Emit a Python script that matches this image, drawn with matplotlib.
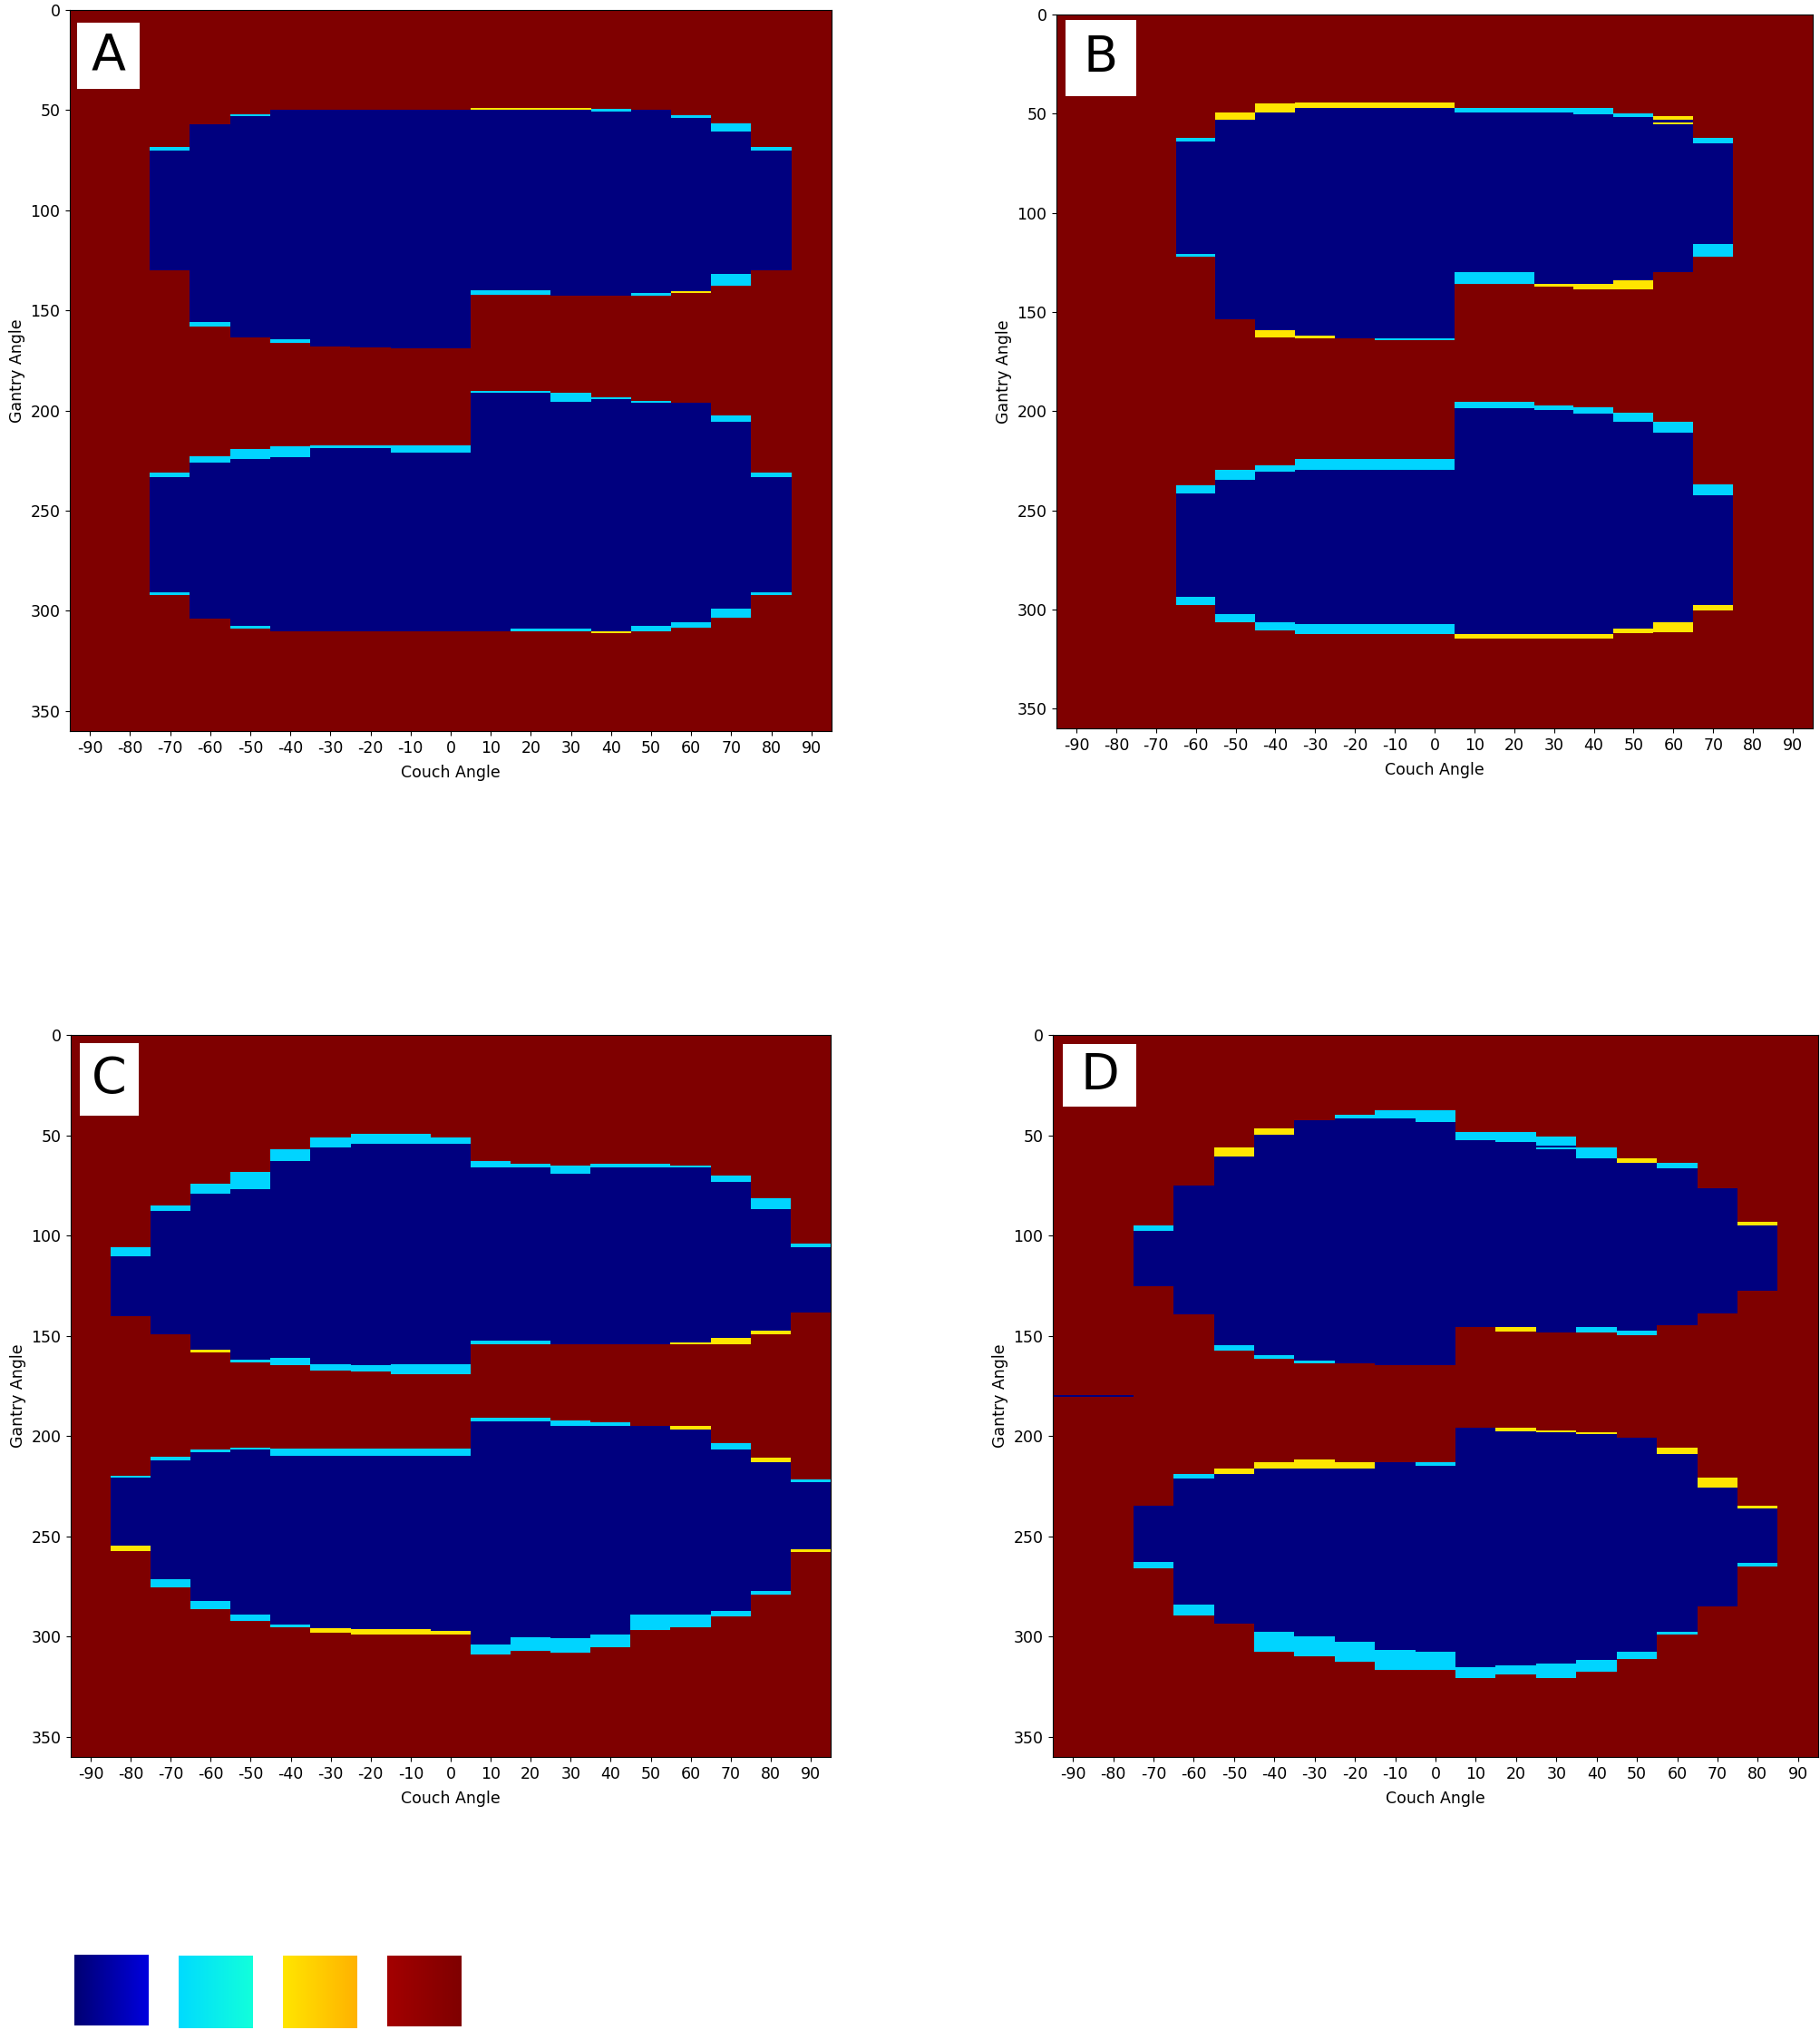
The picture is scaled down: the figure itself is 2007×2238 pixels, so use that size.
import numpy as np
import matplotlib
matplotlib.use("Agg")
import matplotlib.pyplot as plt
from matplotlib.patches import Rectangle

plt.rcParams["axes.unicode_minus"] = False

# codes: 0 = dark blue, 1 = cyan, 2 = yellow, 3 = dark red (background)
couch_angles = list(range(-90, 91, 10))

# ---- panel A ----
A_upper = [(-70, 70, 130), (-60, 57, 156), (-50, 53, 163.5), (-40, 50, 164.5), (-30, 50, 168),
           (-20, 50, 168.5), (-10, 50, 169), (0, 50, 169), (10, 50, 140), (20, 50, 140),
           (30, 50, 142.5), (40, 50.5, 142.5), (50, 50, 141.5), (60, 54, 140.5), (70, 60.5, 132),
           (80, 70, 130)]
A_lower = [(-70, 233.3, 290.7), (-60, 225.8, 303.8), (-50, 224.3, 307.5), (-40, 223.3, 310),
           (-30, 218.8, 310), (-20, 218.8, 310), (-10, 220.8, 310), (0, 220.8, 310),
           (10, 191.2, 310), (20, 191.2, 308.8), (30, 195.5, 308.8), (40, 194.2, 310),
           (50, 196.2, 307.5), (60, 196, 305.8), (70, 205.5, 298.7), (80, 233.3, 290.7)]
A_bands = [(-70, 68.4, 70, 1), (-60, 156, 158, 1), (-50, 52, 53, 1), (-40, 164.5, 166, 1),
           (10, 49, 50, 2), (20, 49, 50, 2), (30, 49, 50, 2), (10, 140, 142, 1), (20, 140, 142, 1),
           (40, 49.5, 50.5, 1), (50, 141.5, 142.5, 1), (60, 52.6, 54, 1), (60, 140.5, 141.5, 2),
           (70, 56.6, 60.5, 1), (70, 132, 137.5, 1), (80, 68.4, 70, 1),
           (-70, 230.8, 233.3, 1), (-70, 290.7, 292.2, 1), (-60, 222.8, 225.8, 1),
           (-50, 219.3, 224.3, 1), (-50, 307.5, 308.8, 1), (-40, 217.8, 223.3, 1),
           (-30, 217.5, 218.8, 1), (-20, 217.5, 218.8, 1), (-10, 217.5, 220.8, 1),
           (0, 217.5, 220.8, 1), (10, 190, 191.2, 1), (20, 190, 191.2, 1), (20, 308.8, 310, 1),
           (30, 191.2, 195.5, 1), (30, 308.8, 310, 1), (40, 193.2, 194.2, 1), (40, 310, 311.3, 2),
           (50, 195, 196.2, 1), (50, 307.5, 310, 1), (60, 305.8, 308.3, 1), (70, 202.3, 205.5, 1),
           (70, 298.7, 303.3, 1), (80, 230.8, 233.3, 1), (80, 290.7, 292.2, 1)]

# ---- panel B ----
B_upper = [(-60, 64.5, 121), (-50, 53.4, 154), (-40, 49.7, 159.3), (-30, 47.4, 162.3),
           (-20, 47.4, 163.4), (-10, 47.4, 163.4), (0, 47.4, 163.4), (10, 49.7, 130),
           (20, 49.7, 130), (30, 49.7, 136), (40, 50.6, 136), (50, 52, 134.3), (60, 53.4, 130),
           (70, 65.2, 116)]
B_lower = [(-60, 241.6, 293.8), (-50, 234.8, 302.6), (-40, 230.5, 306.7), (-30, 229.7, 307.5),
           (-20, 229.7, 307.5), (-10, 229.7, 307.5), (0, 229.7, 307.5), (10, 198.9, 312.5),
           (20, 198.9, 312.5), (30, 199.7, 312.5), (40, 201.5, 312.5), (50, 205.8, 309.9),
           (60, 211, 306.7), (70, 242.6, 297.9)]
B_bands = [(-60, 62.7, 64.5, 1), (-60, 121, 122.4, 1), (-50, 49.7, 53.4, 2), (-40, 45.4, 49.7, 2),
           (-40, 159.3, 163.3, 2), (-30, 44.7, 47.4, 2), (-20, 44.7, 47.4, 2), (-10, 44.7, 47.4, 2),
           (0, 44.7, 47.4, 2), (-30, 162.3, 163.4, 2), (-10, 163.4, 164.5, 1), (0, 163.4, 164.5, 1),
           (10, 47.4, 49.7, 1), (20, 47.4, 49.7, 1), (30, 47.4, 49.7, 1), (40, 47.4, 50.6, 1),
           (10, 130, 136, 1), (20, 130, 136, 1), (30, 136, 137.6, 2), (40, 136, 138.7, 2),
           (50, 50.3, 52, 1), (50, 134.3, 138.7, 2), (60, 51.5, 53.4, 2), (60, 54.6, 55.8, 2),
           (70, 62.7, 65.2, 1), (70, 116, 122.4, 1),
           (-60, 237.7, 241.6, 1), (-60, 293.8, 297.9, 1), (-50, 229.7, 234.8, 1),
           (-50, 302.6, 306.7, 1), (-40, 227.4, 230.5, 1), (-40, 306.7, 310.8, 1),
           (-30, 224.1, 229.7, 1), (-20, 224.1, 229.7, 1), (-10, 224.1, 229.7, 1), (0, 224.1, 229.7, 1),
           (-30, 307.5, 312.5, 1), (-20, 307.5, 312.5, 1), (-10, 307.5, 312.5, 1), (0, 307.5, 312.5, 1),
           (10, 195.7, 198.9, 1), (20, 195.7, 198.9, 1), (30, 197.3, 199.7, 1), (40, 198.3, 201.5, 1),
           (10, 312.5, 314.6, 2), (20, 312.5, 314.6, 2), (30, 312.5, 314.6, 2), (40, 312.5, 314.6, 2),
           (50, 200.8, 205.8, 1), (50, 309.9, 312, 2), (60, 205.8, 211, 1), (60, 306.7, 311.7, 2),
           (70, 237.3, 242.6, 1), (70, 297.9, 300.6, 2)]

# ---- panel C ----
C_upper = [(-80, 110.4, 140.3), (-70, 87.8, 149.3), (-60, 79, 156.9), (-50, 76.7, 162),
           (-40, 63, 161.2), (-30, 56.3, 164), (-20, 54.2, 164.7), (-10, 54.2, 164.2),
           (0, 54.2, 164.2), (10, 66, 152.2), (20, 66, 152.2), (30, 69.2, 154.2), (40, 66, 154.2),
           (50, 66, 154.2), (60, 66, 153.1), (70, 73.2, 150.9), (80, 87, 147.4), (90, 105.8, 138.5)]
C_lower = [(-80, 220.9, 254.4), (-70, 211.9, 271.3), (-60, 208, 282.1), (-50, 206.9, 289.2),
           (-40, 209.8, 294.1), (-30, 209.8, 295.9), (-20, 209.8, 296.4), (-10, 209.8, 296.4),
           (0, 209.8, 297.1), (10, 192.8, 303.9), (20, 192.8, 300.2), (30, 194.7, 300.9),
           (40, 194.7, 299.1), (50, 194.7, 289.2), (60, 196.8, 289.2), (70, 206.8, 287.4),
           (80, 212.8, 277.3), (90, 222.8, 256.6)]
C_bands = [(-80, 105.8, 110.4, 1), (-70, 84.8, 87.8, 1), (-60, 74, 79, 1), (-60, 156.9, 158.4, 2),
           (-50, 68.3, 76.7, 1), (-50, 162, 163.2, 1), (-40, 57.2, 63, 1), (-40, 161.2, 164.7, 1),
           (-30, 51.2, 56.3, 1), (-30, 164, 167.2, 1), (-20, 49.3, 54.2, 1), (-20, 164.7, 168, 1),
           (-10, 49.3, 54.2, 1), (-10, 164.2, 169.2, 1), (0, 51.2, 54.2, 1), (0, 164.2, 169.2, 1),
           (10, 62.7, 66, 1), (10, 152.2, 154.2, 1), (20, 64.2, 66, 1), (20, 152.2, 154.2, 1),
           (30, 65, 69.2, 1), (40, 64.2, 66, 1), (50, 64.2, 66, 1), (60, 65, 66, 1),
           (60, 153.1, 154.2, 2), (70, 70.2, 73.2, 1), (70, 150.9, 154.2, 2), (80, 81.2, 87, 1),
           (80, 147.4, 149.4, 2), (90, 104, 105.8, 1),
           (-80, 219.8, 220.9, 1), (-80, 254.4, 257.4, 2), (-70, 210.5, 211.9, 1),
           (-70, 271.3, 275.4, 1), (-60, 206.6, 208, 1), (-60, 282.1, 286.3, 1), (-50, 206, 206.9, 1),
           (-50, 289.2, 292.2, 1), (-40, 206.3, 209.8, 1), (-40, 294.1, 295.3, 1),
           (-30, 206.3, 209.8, 1), (-30, 295.9, 297.9, 2), (-20, 206.3, 209.8, 1), (-20, 296.4, 299, 2),
           (-10, 206.3, 209.8, 1), (-10, 296.4, 299, 2), (0, 206.3, 209.8, 1), (0, 297.1, 298.9, 2),
           (10, 191, 192.8, 1), (10, 303.9, 308.9, 1), (20, 191, 192.8, 1), (20, 300.2, 306.9, 1),
           (30, 192, 194.7, 1), (30, 300.9, 308.1, 1), (40, 193.1, 194.7, 1), (40, 299.1, 305.1, 1),
           (50, 289.2, 296.8, 1), (60, 195, 196.8, 2), (60, 289.2, 295.2, 1), (70, 203.3, 206.8, 1),
           (70, 287.4, 290.1, 1), (80, 210.8, 212.8, 2), (80, 277.3, 279.1, 1), (90, 221.6, 222.8, 1),
           (90, 256.6, 257.7, 2)]

# ---- panel D ----
D_upper = [(-70, 97.5, 125.4), (-60, 75.3, 139.4), (-50, 60.6, 154.8), (-40, 49.7, 159.7),
           (-30, 42.3, 162.4), (-20, 41.4, 163.6), (-10, 41.4, 164.6), (0, 43.5, 164.6),
           (10, 52.3, 145.8), (20, 53.3, 145.8), (30, 55.3, 148.5), (40, 61.3, 145.8),
           (50, 63.6, 147.3), (60, 66.6, 144.6), (70, 76.4, 138.7), (80, 94.8, 127.7)]
D_lower = [(-70, 234.8, 262.8), (-60, 221, 283.8), (-50, 219, 293.7), (-40, 216.3, 297.5),
           (-30, 216.3, 299.7), (-20, 216.3, 302.7), (-10, 213, 306.7), (0, 215, 307.5),
           (10, 195.8, 315.4), (20, 197.8, 314.5), (30, 198.2, 313.5), (40, 199, 311.5),
           (50, 200.7, 307.5), (60, 209, 297.5), (70, 225.8, 284.7), (80, 236, 263)]
D_bands = [(-90, 179.4, 180.6, 0), (-80, 179.4, 180.6, 0),
           (-70, 94.8, 97.5, 1), (-50, 56.3, 60.6, 2), (-50, 154.8, 157.5, 1), (-40, 46.7, 49.7, 2),
           (-40, 159.7, 161.3, 1), (-30, 162.4, 163.9, 1), (-20, 39.7, 41.4, 1), (-10, 37.5, 41.4, 1),
           (0, 37.5, 43.5, 1), (10, 48.5, 52.3, 1), (20, 48.5, 53.3, 1), (20, 145.8, 147.7, 2),
           (30, 50.5, 55.3, 1), (30, 56, 57, 1), (40, 56.3, 61.3, 1), (40, 145.8, 148.5, 1),
           (50, 61.3, 63.6, 2), (50, 147.3, 149.5, 1), (60, 63.6, 66.6, 1), (80, 93.3, 94.8, 2),
           (-70, 262.8, 265.8, 1), (-60, 219, 221, 1), (-60, 283.8, 289.5, 1), (-50, 216, 219, 2),
           (-40, 213, 216.3, 2), (-40, 297.5, 307.5, 1), (-30, 211.8, 216.3, 2), (-30, 299.7, 309.7, 1),
           (-20, 213, 216.3, 2), (-20, 302.7, 312.7, 1), (-10, 306.7, 316.5, 1), (0, 213, 215, 1),
           (0, 307.5, 316.5, 1), (10, 315.4, 320.7, 1), (20, 195.8, 197.8, 2), (20, 314.5, 319, 1),
           (30, 197, 198.2, 2), (30, 313.5, 320.7, 1), (40, 198, 199, 2), (40, 311.5, 317.7, 1),
           (50, 307.5, 311.2, 1), (60, 205.8, 209, 2), (60, 297.5, 299, 1), (70, 220.8, 225.8, 2),
           (80, 234.8, 236, 2), (80, 263, 264.8, 1)]

legend_colors = [((0.0, 0.0, 0.45), (0.0, 0.0, 0.87)),
                 ((0.0, 0.86, 1.0), (0.07, 1.0, 0.86)),
                 ((1.0, 0.9, 0.0), (1.0, 0.7, 0.0)),
                 ((0.64, 0.0, 0.0), (0.5, 0.0, 0.0))]

RES = 10  # rows per degree


def build_grid(upper, lower, bands):
    grid = np.full((360 * RES, len(couch_angles)), 3.0)
    for c, top, bot in upper + lower:
        j = couch_angles.index(c)
        grid[int(round(top * RES)):int(round(bot * RES)), j] = 0
    for c, top, bot, v in bands:
        j = couch_angles.index(c)
        grid[int(round(top * RES)):int(round(bot * RES)), j] = v
    return grid


fig = plt.figure(figsize=(20.08, 22.38), dpi=100)
W, H = 2008, 2238

# axes boxes in pixels: left, top, right, bottom ; label box in axes fraction
panels = [
    ("A", A_upper, A_lower, A_bands, (77, 11, 917, 806), (0.010, 0.890, 0.082, 0.093)),
    ("B", B_upper, B_lower, B_bands, (1165, 16, 1999, 803), (0.012, 0.886, 0.093, 0.107)),
    ("C", C_upper, C_lower, C_bands, (78, 1141, 916, 1937), (0.012, 0.888, 0.077, 0.101)),
    ("D", D_upper, D_lower, D_bands, (1161, 1141, 2005, 1937), (0.0135, 0.901, 0.095, 0.086)),
]

for name, up, low, bands, (l, t, r, b), (bx, by, bw, bh) in panels:
    ax = fig.add_axes([l / W, 1 - b / H, (r - l) / W, (b - t) / H])
    grid = build_grid(up, low, bands)
    ax.imshow(grid, extent=[-95, 95, 360, 0], aspect="auto", cmap="jet",
              vmin=0, vmax=3, interpolation="nearest")
    ax.set_xticks(couch_angles)
    ax.set_yticks(range(0, 351, 50))
    ax.tick_params(labelsize=12.5, pad=4)
    ax.set_xlabel("Couch Angle", fontsize=12.5, labelpad=6)
    ax.set_ylabel("Gantry Angle", fontsize=12.5)
    ax.add_patch(Rectangle((bx, by), bw, bh, transform=ax.transAxes,
                           facecolor="white", edgecolor="none", zorder=5))
    ax.text(bx + bw / 2, by + bh / 2, name, transform=ax.transAxes, fontsize=40,
            ha="center", va="center", zorder=6)

# colour key swatches at the bottom
sw_boxes = [(82, 2155, 164, 2233), (197, 2156, 279, 2236), (312, 2156, 394, 2236), (427, 2156, 509, 2234)]
for (c0, c1), (l, t, r, b) in zip(legend_colors, sw_boxes):
    sax = fig.add_axes([l / W, 1 - b / H, (r - l) / W, (b - t) / H])
    f = np.linspace(0, 1, 64)[None, :, None]
    grad = (1 - f) * np.array(c0)[None, None, :] + f * np.array(c1)[None, None, :]
    sax.imshow(grad, aspect="auto", interpolation="bilinear")
    sax.axis("off")

fig.savefig("out.png", dpi=100)
